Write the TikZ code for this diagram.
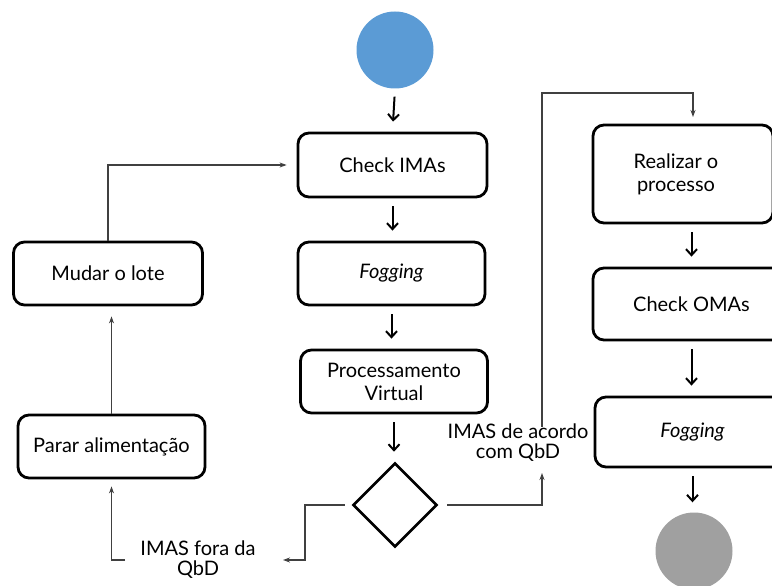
\documentclass[tikz,border=0pt]{standalone}
\usepackage{fontspec}
\setmainfont{Lato}
\usetikzlibrary{arrows.meta,shapes.geometric}
\definecolor{startblue}{HTML}{5B9BD5}
\definecolor{endgrey}{HTML}{A0A0A0}
\definecolor{linkgrey}{HTML}{404040}
\begin{document}
\begin{tikzpicture}[x=1pt,y=-1pt,
  font=\fontsize{20}{23}\selectfont,
  box/.style={draw=black, line width=2.8pt, rounded corners=11pt, fill=white,
    align=center, inner sep=0pt},
  flow/.style={line width=2pt, -{Straight Barb[length=6pt,width=11pt]},
    shorten <=8pt, shorten >=10pt},
  link/.style={draw=linkgrey, line width=1.1pt, -{Stealth[length=7pt,width=5pt]}},
  guard/.style={align=center, inner sep=1pt, font=\fontsize{20}{20}\selectfont}
]
\useasboundingbox (0,0) rectangle (772,586);
\clip (0,0) rectangle (772,586);

% start and end states
\node[circle, fill=startblue, minimum size=77pt, inner sep=0pt] (start) at (395,50) {};
\node[circle, fill=endgrey, minimum size=77pt, inner sep=0pt] (finish) at (694,551) {};

% central column
\node[box, minimum width=189pt, minimum height=64pt] (check) at (392.5,165) {Check IMAs};
\node[box, minimum width=187pt, minimum height=63pt] (fog) at (391.5,273.5) {\itshape Fogging};
\node[box, minimum width=187pt, minimum height=63pt] (proc) at (394,381.5) {Processamento\\Virtual};
\node[diamond, draw=black, line width=2.6pt, aspect=1, inner sep=0pt,
  minimum width=84pt, minimum height=84pt] (dec) at (395,505) {};

% left column
\node[box, minimum width=189pt, minimum height=63pt] (mudar) at (108,273.5) {Mudar o lote};
\node[box, minimum width=187pt, minimum height=63pt] (parar) at (111.5,446.5) {Parar alimentação};

% right column
\node[box, minimum width=180pt, minimum height=98pt] (real) at (683,174) {\hspace*{-14pt}Realizar o\\\hspace*{-14pt}processo};
\node[box, minimum width=197pt, minimum height=72pt] (omas) at (691.5,304) {Check OMAs};
\node[box, minimum width=195pt, minimum height=70pt] (fogb) at (692.5,432) {\itshape Fogging};

% guard labels
\node[guard] (ok) at (518,443) {IMAS de acordo\\com QbD};
\node[guard] (bad) at (198,560) {IMAS fora da\\QbD};

% connector ends
\coordinate (okin) at (542,473);
\coordinate (okout) at (542,427);
\coordinate (rtop) at (693,117);
\coordinate (badin) at (283,560);
\coordinate (badout) at (125,560);

% main flow
\draw[flow] (start.south) -- (check.north);
\draw[flow] (check.south) -- (check.south |- fog.north);
\draw[flow] (fog.south) -- (fog.south |- proc.north);
\draw[flow] (proc.south) -- (proc.south |- dec.north);
\draw[flow] (omas.north |- real.south) -- (omas.north);
\draw[flow] (omas.south) -- (omas.south |- fogb.north);
\draw[flow] (fogb.south) -- (fogb.south |- finish.north);

% decision branches
\draw[link, shorten <=9pt] (dec.east) -| (okin);
\draw[link, shorten >=0pt] (okout) |- (693,93) -- (rtop);
\draw[link, shorten <=7pt] (dec.west) -- (305,505) |- (badin);
\draw[link, shorten >=7pt] (badout) -| (parar.south);

% rework loop
\draw[link, shorten >=10pt] (parar.north) -- (parar.north |- mudar.south);
\draw[link, shorten >=10pt] (mudar.north) |- (check.west);
\end{tikzpicture}
\end{document}
